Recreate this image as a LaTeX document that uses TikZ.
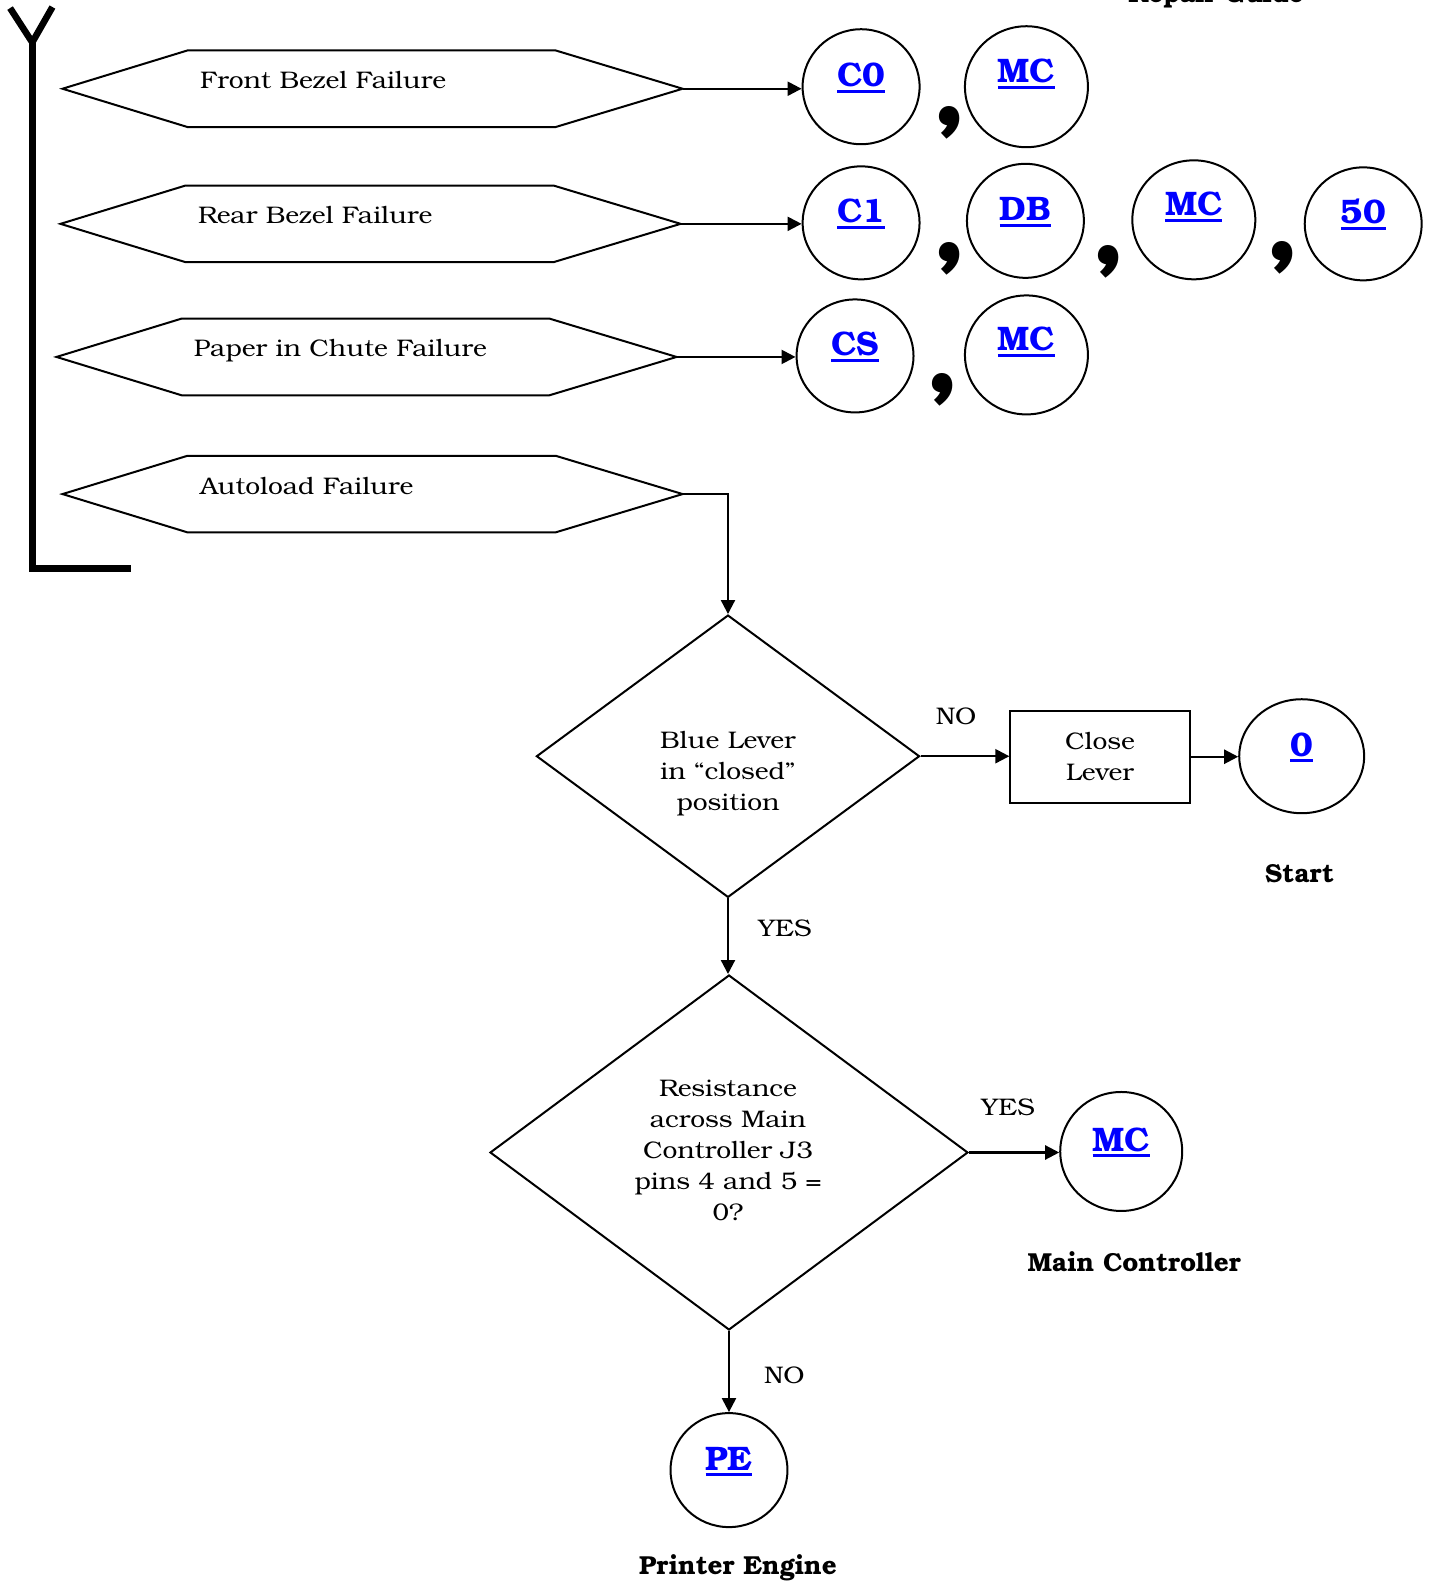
\documentclass[tikz,border=0pt]{standalone}
\usepackage{fontspec}
\setmainfont{TeX Gyre Bonum}
\newfontfamily\widefont{TeX Gyre Bonum}[FakeStretch=1.1]
\usetikzlibrary{positioning,shapes.geometric,arrows.meta}
\definecolor{linkblue}{RGB}{0,0,255}
% underlined blue reference mark
\newcommand*{\lnk}[1]{{\color{linkblue}\setbox0\hbox{#1}%
  \rlap{\rule[-3pt]{\wd0}{1.5pt}}\box0}}

\tikzset{
  shapeline/.style={draw,line width=1pt},
  failtext/.style={anchor=base west,inner sep=0pt,font=\widefont\fontsize{12}{14}\selectfont},
  ref/.style={ellipse,draw,line width=1pt,inner sep=0pt,
    font=\fontsize{17}{17}\bfseries,text height=6pt,text depth=6pt},
  raised/.style={text height=4pt,text depth=8pt},
  decision/.style={diamond,draw,line width=1pt,inner sep=0pt},
  qtext/.style={align=center,inner sep=0pt,font=\widefont\fontsize{12}{15.6}\selectfont},
  action/.style={rectangle,draw,line width=1pt,align=center,
    font=\widefont\fontsize{12}{15.6}\selectfont},
  arr/.style={line width=1.1pt,-{Triangle[length=7pt,width=7pt]}},
  lbl/.style={inner sep=0pt,font=\widefont\fontsize{12}{14}\selectfont},
  sepmark/.style={anchor=center,inner sep=0pt,font=\fontsize{57}{57}\bfseries},
  caption/.style={anchor=base,inner sep=0pt,font=\fontsize{13}{15}\bfseries}
}

\begin{document}
\begin{tikzpicture}[x=0.5042pt,y=-0.5042pt]
\useasboundingbox (0,0) rectangle (1420,1568);
% Bracket on the left
\draw[line width=3.3pt] (10,8) -- (32,42) -- (52,7);
\draw[line width=3.3pt] (32,42) -- (32,564) -- (130,564);
% Failure hexagons
\foreach \i/\xl/\yc/\txt in {1/62/88/Front Bezel Failure,
    2/60/222/Rear Bezel Failure,3/56/354/Paper in Chute Failure,
    4/62/490/Autoload Failure}{
  \draw[shapeline] (\xl,\yc) coordinate (h\i-w) -- ++(124,-38) -- ++(365,0)
    -- ++(126,38) coordinate (h\i-e) -- ++(-126,38) -- ++(-365,0) -- cycle;
  \node[failtext] (f\i) at (\xl+136,\yc) {\txt};
}
% Reference circles
\node[ref,minimum width=58.5pt,minimum height=57.5pt] (c0) at (854,86) {\lnk{C0}};
\node[ref,raised,minimum width=61.5pt,minimum height=60.5pt] (mc1) at (1018,86) {\lnk{MC}};
\node[ref,minimum width=58.5pt,minimum height=56.5pt] (c1) at (854,221) {\lnk{C1}};
\node[ref,minimum width=58.5pt,minimum height=57pt] (db) at (1017,219) {\lnk{DB}};
\node[ref,raised,minimum width=61.5pt,minimum height=59.5pt] (mc2) at (1184,218) {\lnk{MC}};
\node[ref,minimum width=58.5pt,minimum height=56.5pt] (c50) at (1352,222) {\lnk{50}};
\node[ref,minimum width=58.5pt,minimum height=56.5pt] (cs) at (848,353) {\lnk{CS}};
\node[ref,raised,minimum width=61.5pt,minimum height=59.5pt] (mc3) at (1018,352) {\lnk{MC}};
% Commas between the circles
\node[sepmark] (k1) at (942,122) {,};
\node[sepmark] (k2) at (942,257) {,};
\node[sepmark] (k3) at (1100,260) {,};
\node[sepmark] (k4) at (1272,256) {,};
\node[sepmark] (k5) at (935,387) {,};
\draw[arr] (h1-e) -- (h1-e -| c0.west);
\draw[arr] (h2-e) -- (h2-e -| c1.west);
\draw[arr] (h3-e) -- (h3-e -| cs.west);
% Autoload branch
\node[decision,minimum width=191.6pt,minimum height=141.2pt] (q1) at (722,750) {};
\node[qtext] (q1t) at (722,767) {Blue Lever\\in “closed”\\position};
\node[action,minimum width=89.7pt,minimum height=45.9pt] (cl) at (1091,750.5) {Close\\Lever};
\node[ref,minimum width=62.5pt,minimum height=57pt] (z0) at (1291,750) {\lnk{0}};
\node[caption] (st) at (1289,875) {Start};
\node[decision,minimum width=239pt,minimum height=177.5pt] (q2) at (723,1143) {};
\node[qtext] (q2t) at (722,1141) {Resistance\\across Main\\Controller J3\\pins 4 and 5 =\\0?};
\node[ref,minimum width=61pt,minimum height=59.5pt] (mc4) at (1112,1142) {\lnk{MC}};
\node[caption] (mcc) at (1125,1261) {Main Controller};
\node[ref,minimum width=58.5pt,minimum height=57pt] (pe) at (723,1458) {\lnk{PE}};
\node[caption] (pec) at (732,1562) {Printer Engine};
\node[caption] (rg) at (1206,2) {Repair Guide};
\draw[arr] (h4-e) -| (q1.north);
\draw[arr] (q1.east) -- node[lbl,above=15pt,pos=0.4] {NO} (q1.east -| cl.west);
\draw[arr] (cl.east) -- (cl.east -| z0.west);
\draw[arr] (q1.south) -- node[lbl,anchor=base west,xshift=14.6pt] {YES} (q1.south |- q2.north);
\draw[arr] (q2.east) -- node[lbl,above=18pt,xshift=-3pt] {YES} (q2.east -| mc4.west);
\draw[arr] (q2.south) -- node[lbl,anchor=base west,xshift=17pt,yshift=-5.8pt] {NO} (q2.south |- pe.north);
\end{tikzpicture}
\end{document}
